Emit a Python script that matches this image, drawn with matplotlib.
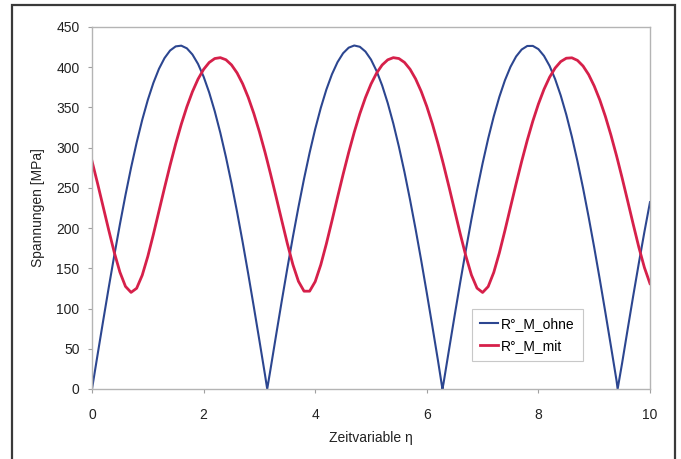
import matplotlib.pyplot as plt
from matplotlib.patches import Rectangle

plt.rcParams['font.family'] = ['Liberation Sans', 'DejaVu Sans']

# Zeitvariable eta (Ablesepunkte)
eta = [0.0, 0.1, 0.2, 0.3, 0.4, 0.5, 0.6, 0.7, 0.8, 0.9,
       1.0, 1.1, 1.2, 1.3, 1.4, 1.5, 1.6, 1.7, 1.8, 1.9,
       2.0, 2.1, 2.2, 2.3, 2.4, 2.5, 2.6, 2.7, 2.8, 2.9,
       3.0, 3.1, 3.14, 3.2, 3.3, 3.4, 3.5, 3.6, 3.7, 3.8, 3.9,
       4.0, 4.1, 4.2, 4.3, 4.4, 4.5, 4.6, 4.7, 4.8, 4.9,
       5.0, 5.1, 5.2, 5.3, 5.4, 5.5, 5.6, 5.7, 5.8, 5.9,
       6.0, 6.1, 6.2, 6.28, 6.3, 6.4, 6.5, 6.6, 6.7, 6.8, 6.9,
       7.0, 7.1, 7.2, 7.3, 7.4, 7.5, 7.6, 7.7, 7.8, 7.9,
       8.0, 8.1, 8.2, 8.3, 8.4, 8.5, 8.6, 8.7, 8.8, 8.9,
       9.0, 9.1, 9.2, 9.3, 9.4, 9.42, 9.5, 9.6, 9.7, 9.8, 9.9,
       10.0]

# R*_M_ohne [MPa]
r_ohne = [0.0, 42.6, 84.8, 126.2, 166.3, 204.7, 241.1, 275.1, 306.3, 334.5,
          359.3, 380.5, 398.0, 411.4, 420.8, 425.9, 426.8, 423.5, 415.8, 404.1,
          388.3, 368.6, 345.2, 318.4, 288.4, 255.6, 220.1, 182.5, 143.0, 102.1,
          60.3, 17.8, 0.0, 24.9, 67.3, 109.1, 149.8, 189.0, 226.2, 261.3, 293.7,
          323.2, 349.4, 372.2, 391.2, 406.3, 417.4, 424.3, 427.0, 425.4, 419.5,
          409.5, 395.3, 377.3, 355.4, 330.0, 301.2, 269.6, 235.1, 198.4, 159.7,
          119.3, 77.8, 35.5, 0.0, 7.2, 49.7, 91.8, 133.0, 172.8, 211.0, 247.0,
          280.5, 311.3, 338.9, 363.1, 383.7, 400.5, 413.3, 422.0, 426.4, 426.5,
          422.5, 414.1, 401.7, 385.2, 364.9, 341.0, 313.6, 283.1, 249.8, 213.9,
          176.0, 136.3, 95.2, 53.2, 10.6, 0.0, 32.1, 74.4, 116.1, 156.5, 195.4,
          232.3]

# R*_M_mit [MPa]
r_mit = [283.3, 255.5, 226.5, 197.5, 169.6, 145.3, 127.5, 120.1, 125.2, 141.4,
         164.8, 192.2, 221.2, 250.2, 278.3, 304.8, 329.1, 350.8, 369.6, 385.2,
         397.3, 405.9, 410.8, 411.9, 409.3, 402.9, 392.9, 379.4, 362.5, 342.5,
         319.7, 294.5, 283.7, 267.2, 238.7, 209.7, 181.0, 154.7, 133.8, 121.6, 121.6,
         133.5, 154.4, 180.5, 209.0, 238.2, 266.8, 294.0, 319.3, 342.2, 362.2,
         379.1, 392.7, 402.8, 409.2, 411.9, 410.8, 406.0, 397.5, 385.4, 369.9,
         351.2, 329.5, 305.2, 284.2, 278.8, 250.7, 221.6, 192.7, 165.3, 141.7, 125.4,
         120.0, 127.3, 144.9, 169.2, 197.0, 226.1, 255.0, 282.9, 309.1, 333.0,
         354.2, 372.5, 387.5, 399.0, 407.0, 411.2, 411.7, 408.5, 401.5, 390.9,
         376.7, 359.4, 338.9, 315.6, 290.0, 284.6, 262.5, 233.7, 204.6, 176.2, 150.9,
         131.0]

x_ticks = [0, 2, 4, 6, 8, 10]
y_ticks = [0, 50, 100, 150, 200, 250, 300, 350, 400, 450]

fig = plt.figure(figsize=(6.81, 4.59), dpi=100)

# dunkler Rahmen um die Grafik (unten abgeschnitten)
fig.patches.append(Rectangle((12 / 681, -0.05), 663 / 681, 1.05 - 5 / 459,
                             transform=fig.transFigure, fill=False,
                             edgecolor='#3a3a3a', linewidth=1.6, clip_on=False))

ax = fig.add_axes([92 / 681, 70 / 459, 558 / 681, 362 / 459])
ax.plot(eta, r_ohne, color='#2c4690', linewidth=1.5, label='R°_M_ohne')
ax.plot(eta, r_mit, color='#d6204a', linewidth=2.0, label='R°_M_mit')

ax.set_xlim(0, 10)
ax.set_ylim(0, 450)
ax.set_xticks(x_ticks)
ax.set_yticks(y_ticks)
ax.tick_params(labelsize=10, length=3, color='#a0a0a0', labelcolor='#222222')
ax.tick_params(axis='x', pad=11)
ax.tick_params(axis='y', pad=6)

for s in ax.spines.values():
    s.set_color('#b4b4b4')
    s.set_linewidth(1.0)

ax.set_xlabel('Zeitvariable η', fontsize=10, color='#222222', labelpad=6)
ax.set_ylabel('Spannungen [MPa]', fontsize=10, color='#222222', labelpad=8)

leg = ax.legend(loc='lower left', bbox_to_anchor=(0.668, 0.058), fontsize=10,
                handlelength=1.3, handletextpad=0.2, borderpad=0.6,
                labelspacing=0.55, fancybox=False, framealpha=1)
leg.get_frame().set_edgecolor('#c8c8c8')
leg.get_frame().set_linewidth(0.8)

fig.savefig('out.png', dpi=100)
